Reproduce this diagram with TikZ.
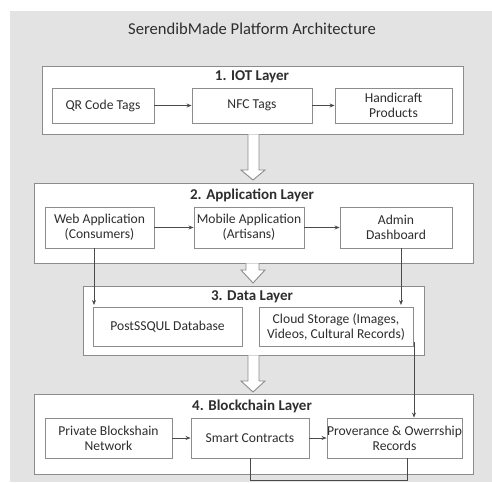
\documentclass[tikz,border=0pt]{standalone}
\usepackage{fontspec}
\setmainfont{Carlito}
\usetikzlibrary{arrows.meta,calc}
\definecolor{bg}{HTML}{E3E3E3}
\definecolor{bord}{HTML}{8C8C8C}
\definecolor{conn}{HTML}{4A4A4A}
\definecolor{txt}{HTML}{2E2E2E}
\tikzset{
  layerbox/.style={draw=bord, fill=white, line width=0.9pt, inner sep=0pt},
  compbox/.style={draw=bord, fill=white, line width=0.9pt, inner sep=0pt, align=center, text=txt, font=\fontsize{13.6}{15}\selectfont},
  layertitle/.style={text=txt, font=\fontsize{15}{17}\bfseries\selectfont, inner sep=0pt},
  flow/.style={draw=conn, line width=0.7pt, -{Stealth[length=5pt,width=4pt]}},
  loopline/.style={draw=conn, line width=0.7pt},
  hollow/.style={draw=bord, fill=white, line width=0.9pt, line join=miter},
}
\begin{document}
\begin{tikzpicture}[x=1pt,y=-1pt]
\useasboundingbox (0,0) rectangle (492,482);
\fill[bg] (10,11) rectangle (492,482);

\node[text=txt, font=\fontsize{16.6}{18}\selectfont, inner sep=0pt] (title) at (252,29) {SerendibMade Platform Architecture};

% Layer 1
\node[layerbox, minimum width=421pt, minimum height=68pt] (L1) at (252.5,100) {};
\node[layertitle] (t1) at (252,77) {1. IOT Layer};
\node[compbox, minimum width=102pt, minimum height=35pt] (qr) at (103,105.5) {QR Code Tags};
\node[compbox, minimum width=120pt, minimum height=35pt] (nfc) at (252,105.5) {NFC Tags};
\node[compbox, minimum width=117pt, minimum height=35pt] (hand) at (393.5,105.5) {Handicraft\\Products};

% Layer 2
\node[layerbox, minimum width=439pt, minimum height=80pt] (L2) at (253.5,223) {};
\node[layertitle] (t2) at (252,195) {2. Application Layer};
\node[compbox, minimum width=109pt, minimum height=41pt] (web) at (99.5,227.5) {Web Application\\(Consumers)};
\node[compbox, minimum width=110pt, minimum height=41pt] (mob) at (249,227.5) {Mobile Application\\(Artisans)};
\node[compbox, minimum width=112pt, minimum height=41pt] (adm) at (396,227.5) {Admin\\Dashboard};

% Layer 3
\node[layerbox, minimum width=341pt, minimum height=69pt] (L3) at (253.5,320.5) {};
\node[layertitle] (t3) at (252,297) {3. Data Layer};
\node[compbox, minimum width=149pt, minimum height=39pt] (pg) at (167.5,326.5) {PostSSQUL Database};
\node[compbox, minimum width=154pt, minimum height=39pt] (cloud) at (336,326.5) {Cloud Storage (Images,\\Videos, Cultural Records)};

% Layer 4
\node[layerbox, minimum width=439pt, minimum height=80pt] (L4) at (253.5,434) {};
\node[layertitle] (t4) at (252,406) {4. Blockchain Layer};
\node[compbox, minimum width=127pt, minimum height=40pt] (priv) at (108.5,438) {Private Blockshain\\Network};
\node[compbox, minimum width=118pt, minimum height=40pt] (smart) at (250,438) {Smart Contracts};
\node[compbox, minimum width=135pt, minimum height=40pt] (prov) at (394.5,438) {Proverance \& Owerrship\\Records};

% hollow arrows between layers
\draw[hollow] (L1.south -| 248,0) -- (248,170) -- (241,170) -- (253,180) -- (265,170) -- (259,170) -- (L1.south -| 259,0);
\draw[hollow] (L2.south -| 246,0) -- (246,270) -- (241,270) -- (253,283) -- (265,270) -- (259,270) -- (L2.south -| 259,0);
\draw[hollow] (L3.south -| 248,0) -- (248,381) -- (241,381) -- (253,392) -- (265,381) -- (259,381) -- (L3.south -| 259,0);

% flows within layers
\draw[flow] (qr) -- (nfc);
\draw[flow] (nfc) -- (hand);
\draw[flow] (web) -- (mob);
\draw[flow] (mob) -- (adm);
\draw[flow] (priv) -- (smart);
\draw[flow] (smart) -- (prov);

% vertical connectors
\coordinate (webdown) at (94,305);
\coordinate (admdown) at (401,305);
\draw[flow] (web.south -| webdown) -- (webdown);
\draw[flow] (adm.south -| admdown) -- (admdown);
\coordinate (cloudout) at (414,342);
\draw[flow] (cloudout) -- (prov.north -| cloudout);

% loop below blockchain layer
\coordinate (la) at (250,480);
\coordinate (lb) at (407,480);
\draw[loopline] (smart.south -| la) -- (la) -- (lb) -- (prov.south -| lb);
\end{tikzpicture}
\end{document}
